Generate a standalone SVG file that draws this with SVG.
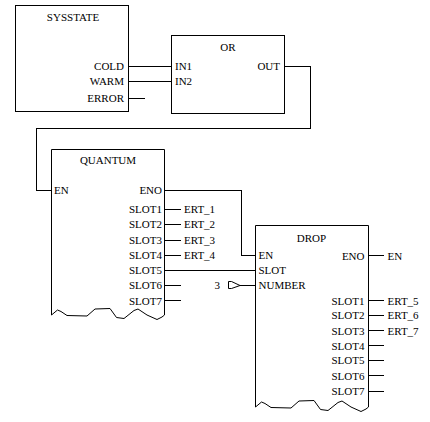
<svg xmlns="http://www.w3.org/2000/svg" width="430" height="422" viewBox="0 0 430 422">
<style>
.box{fill:none;stroke:#000;stroke-width:1;shape-rendering:crispEdges}
.wire{fill:none;stroke:#000;stroke-width:1;shape-rendering:crispEdges}
text{font-family:"Liberation Serif","Times New Roman",serif;font-size:11px;fill:#000}
.r{text-anchor:end}
.m{text-anchor:middle}
</style>
<rect width="430" height="422" fill="#fff"/>
<g id="sysstate">
<rect class="box" x="15.5" y="5.5" width="113" height="106"/>
<text class="m" x="73" y="21">SYSSTATE</text>
<text class="r" x="124" y="70">COLD</text>
<text class="r" x="124" y="85">WARM</text>
<text class="r" x="124" y="102">ERROR</text>
</g>
<g id="or">
<rect class="box" x="171.5" y="35.5" width="113" height="78"/>
<text class="m" x="228" y="51">OR</text>
<text x="175" y="70">IN1</text>
<text x="175" y="85">IN2</text>
<text class="r" x="280" y="70">OUT</text>
</g>
<g id="quantum">
<path class="box" d="M51.5,315 V149.5 H164.5 V315 L162,317 L157,319.5 L147,315 L138,309 L134,310.5 L124,318.5 L116.5,317.5 L110,308.5 L95,309 L87,316 L67,315.5 L61,311.5 L57.5,310 L51.5,315" style="shape-rendering:auto"/>
<text class="m" x="108" y="164">QUANTUM</text>
<text x="54" y="194">EN</text>
<text class="r" x="162" y="194">ENO</text>
<text class="r" x="162" y="213">SLOT1</text>
<text class="r" x="162" y="228">SLOT2</text>
<text class="r" x="162" y="243.5">SLOT3</text>
<text class="r" x="162" y="259">SLOT4</text>
<text class="r" x="162" y="274">SLOT5</text>
<text class="r" x="162" y="289">SLOT6</text>
<text class="r" x="162" y="304.5">SLOT7</text>
<text x="184" y="213">ERT_1</text>
<text x="184" y="228">ERT_2</text>
<text x="184" y="243.5">ERT_3</text>
<text x="184" y="259">ERT_4</text>
</g>
<g id="drop">
<path class="box" d="M255.5,407 V225.5 H368.5 V407 L366,409 L361,411.5 L351,407 L342,401 L338,402.5 L328,410.5 L320.5,409.5 L314,400.5 L299,401 L291,408 L271,407.5 L265,403.5 L261.5,402 L255.5,407" style="shape-rendering:auto"/>
<text class="m" x="311.5" y="241.5">DROP</text>
<text x="258.5" y="259">EN</text>
<text x="258.5" y="274">SLOT</text>
<text x="258.5" y="289">NUMBER</text>
<text class="r" x="364.5" y="259.5">ENO</text>
<text class="r" x="364.5" y="304.5">SLOT1</text>
<text class="r" x="364.5" y="319">SLOT2</text>
<text class="r" x="364.5" y="334.5">SLOT3</text>
<text class="r" x="364.5" y="349.5">SLOT4</text>
<text class="r" x="364.5" y="364">SLOT5</text>
<text class="r" x="364.5" y="379.5">SLOT6</text>
<text class="r" x="364.5" y="394.5">SLOT7</text>
<text x="387.5" y="259.5">EN</text>
<text x="387.5" y="304.5">ERT_5</text>
<text x="387.5" y="319">ERT_6</text>
<text x="387.5" y="334.5">ERT_7</text>
</g>
<g id="const3">
<text x="214.5" y="289">3</text>
<path class="wire" d="M231.5,281.5 H228.5 V288.5 H231.5" style="shape-rendering:auto"/>
<path class="wire" d="M231.5,281.5 L240,285.5 L231.5,288.5" style="shape-rendering:auto"/>
</g>
<g id="connectors">
<path class="wire" d="M128.5,66.5 H171.5"/>
<path class="wire" d="M128.5,81.5 H171.5"/>
<path class="wire" d="M128.5,98.5 H144.5"/>
<path class="wire" d="M284.5,66.5 H310.5 V128.5 H36.5 V190.5 H51.5"/>
<path class="wire" d="M164.5,190.5 H241.5 V255.5 H255.5"/>
<path class="wire" d="M164.5,209.5 H180.5"/>
<path class="wire" d="M164.5,224.5 H180.5"/>
<path class="wire" d="M164.5,240.5 H180.5"/>
<path class="wire" d="M164.5,255.5 H180.5"/>
<path class="wire" d="M164.5,270.5 H255.5"/>
<path class="wire" d="M164.5,285.5 H180.5"/>
<path class="wire" d="M164.5,300.5 H180.5"/>
<path class="wire" d="M240,285.5 H255.5"/>
<path class="wire" d="M368.5,255.5 H383.5"/>
<path class="wire" d="M368.5,300.5 H383.5"/>
<path class="wire" d="M368.5,315.5 H383.5"/>
<path class="wire" d="M368.5,330.5 H383.5"/>
<path class="wire" d="M368.5,345.5 H383.5"/>
<path class="wire" d="M368.5,360.5 H383.5"/>
<path class="wire" d="M368.5,375.5 H383.5"/>
<path class="wire" d="M368.5,391.5 H383.5"/>
</g>
</svg>
